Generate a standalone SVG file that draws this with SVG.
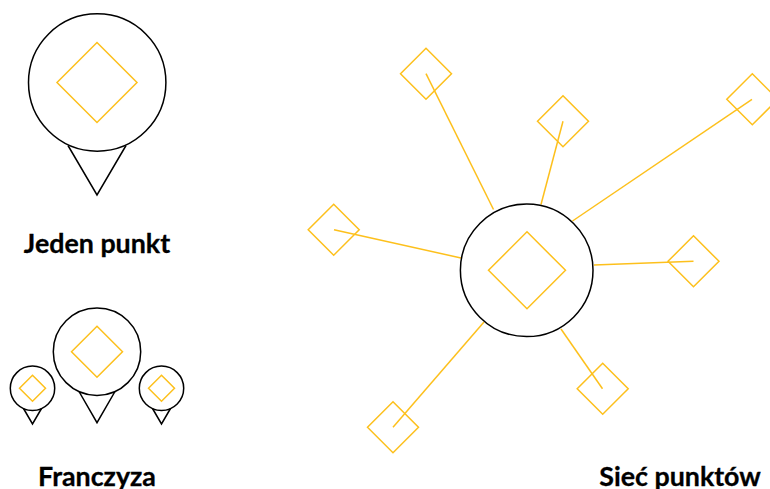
<svg xmlns="http://www.w3.org/2000/svg" xmlns:xlink="http://www.w3.org/1999/xlink" width="770" height="489" viewBox="0 0 770 489">
<style>
.c{fill:none;stroke:#000;stroke-width:1.5}
.d{fill:none;stroke:#fdc01c;stroke-width:1.5}
.t{font-family:Lato,"Liberation Sans",sans-serif;font-weight:700;font-size:26.8px;fill:#000;stroke:#000;stroke-width:.3;text-anchor:middle}
</style>
<defs>
<path id="sd" class="d" d="M0-25.5L25.500 0L0 25.500L-25.500 0Z"/>
</defs>
<rect width="770" height="489" fill="#fff"/>
<g id="pin-single">
<circle class="c" cx="97.200" cy="82.500" r="68.700"/>
<path class="c" d="M68 145.500L97 195L126 145.500"/>
<path class="d" d="M97 42.500L137 82.500L97 122.500L57 82.500Z"/>
<text class="t" x="97" y="252.700">Jeden punkt</text>
</g>
<g id="pin-franchise-main">
<circle class="c" cx="97" cy="351.700" r="43.700"/>
<path class="c" d="M79 391.500L97 422.700L115 391.500"/>
<use xlink:href="#sd" href="#sd" x="97" y="351.700"/>
</g>
<g id="pin-franchise-left">
<circle class="c" cx="32.500" cy="388.300" r="22.200"/>
<path class="c" d="M23.500 408.500L32.500 424L41.500 408.500"/>
<path class="d" d="M32.500 375.300L45.500 388.300L32.500 401.300L19.500 388.300Z"/>
</g>
<g id="pin-franchise-right">
<circle class="c" cx="161.500" cy="388.300" r="22.200"/>
<path class="c" d="M152.500 408.500L161.500 424L170.500 408.500"/>
<path class="d" d="M161.500 375.300L174.500 388.300L161.500 401.300L148.500 388.300Z"/>
</g>
<text id="label-franchise" class="t" x="97" y="485.700">Franczyza</text>
<g id="connectors">
<path class="d" d="M426 73.700L493.500 209.500"/>
<path class="d" d="M563 121.300L541 204.500"/>
<path class="d" d="M752 99.300L572.500 221"/>
<path class="d" d="M334 229.700L461 258"/>
<path class="d" d="M693.500 261.300L594 265"/>
<path class="d" d="M602.500 388.700L561 329"/>
<path class="d" d="M393 427.300L484 322"/>
</g>
<g id="hub">
<circle class="c" cx="526.700" cy="270.300" r="66.300"/>
<path class="d" d="M527 231.800L565.500 270.300L527 308.800L488.500 270.300Z"/>
</g>
<g id="n1"><use xlink:href="#sd" href="#sd" x="426" y="73.700"/></g>
<g id="n2"><use xlink:href="#sd" href="#sd" x="563" y="121.300"/></g>
<g id="n3"><use xlink:href="#sd" href="#sd" x="752.300" y="99.300"/></g>
<g id="n4"><use xlink:href="#sd" href="#sd" x="333.700" y="229.700"/></g>
<g id="n5"><use xlink:href="#sd" href="#sd" x="693.500" y="261.300"/></g>
<g id="n6"><use xlink:href="#sd" href="#sd" x="602.700" y="388.700"/></g>
<g id="n7"><use xlink:href="#sd" href="#sd" x="393" y="427.300"/></g>
<text id="label-network" class="t" x="680" y="485.700">Sieć punktów</text>
</svg>
